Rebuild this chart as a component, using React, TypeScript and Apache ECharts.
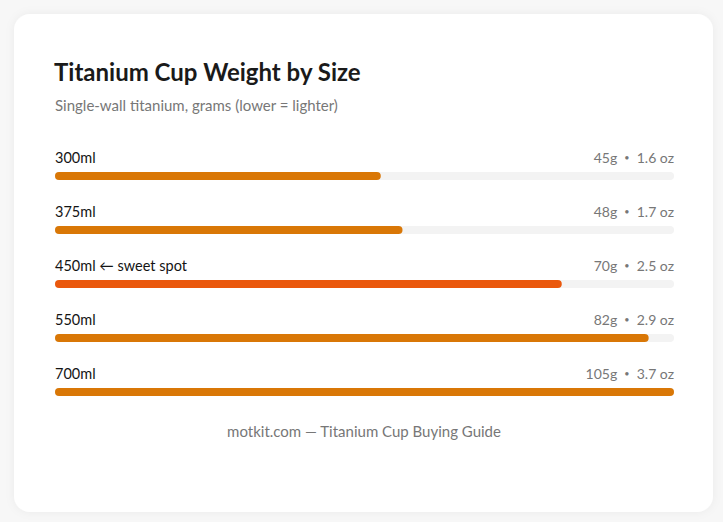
import { useEffect, useRef } from "react";
import * as echarts from "echarts";

const sizes = ["300ml", "375ml", "450ml", "550ml", "700ml"];
const notes = ["", "", "← sweet spot", "", ""];
const grams = [45, 48, 70, 82, 105];
const ounces = ["1.6", "1.7", "2.5", "2.9", "3.7"];
const highlight = 2;

const AXIS_MAX = 85.5;
const FONT = "Lato, 'Noto Sans', sans-serif";
const BAR = "#d97706";
const BAR_HI = "#ea580c";
const TRACK = "#f3f3f3";

function App() {
    const ref = useRef<HTMLDivElement>(null);

    useEffect(() => {
        document.body.style.margin = "0";
        if (!ref.current) return;
        const chart = echarts.init(ref.current, undefined, { renderer: "svg" });

        const labelRow = sizes.map((s, i) => (notes[i] ? `${s} ${notes[i]}` : s));
        // small bullet between the two units
        const valueRow = grams.map((g, i) => `${g}g  {d|•}  ${ounces[i]} oz`);

        chart.setOption({
            animation: false,
            backgroundColor: "#f7f7f7",
            textStyle: { fontFamily: FONT },
            graphic: [
                {
                    type: "rect",
                    z: -10,
                    shape: { x: 14, y: 14, width: 699, height: 498, r: 16 },
                    style: {
                        fill: "#ffffff",
                        shadowBlur: 10,
                        shadowColor: "rgba(0,0,0,0.05)",
                    },
                },
                {
                    type: "text",
                    x: 54,
                    y: 71,
                    style: {
                        text: "Titanium Cup Weight by Size",
                        font: `bold 24px ${FONT}`,
                        fill: "#1a1a1a",
                        verticalAlign: "middle",
                    },
                },
                {
                    type: "text",
                    x: 55,
                    y: 105,
                    style: {
                        text: "Single-wall titanium, grams (lower = lighter)",
                        font: `15px ${FONT}`,
                        fill: "#777777",
                        verticalAlign: "middle",
                    },
                },
                {
                    type: "text",
                    x: 364,
                    y: 431,
                    style: {
                        text: "motkit.com — Titanium Cup Buying Guide",
                        font: `15px ${FONT}`,
                        fill: "#777777",
                        align: "center",
                        verticalAlign: "middle",
                    },
                },
            ],
            grid: { left: 55, right: 49, top: 149, bottom: 103 },
            xAxis: { type: "value", min: 0, max: AXIS_MAX, show: false },
            yAxis: {
                type: "category",
                data: sizes,
                inverse: true,
                show: false,
            },
            series: [
                {
                    type: "bar",
                    silent: true,
                    barWidth: 8,
                    barGap: "-100%",
                    data: sizes.map(() => AXIS_MAX),
                    itemStyle: { color: TRACK, borderRadius: 4 },
                    label: {
                        show: true,
                        position: [0, -15],
                        align: "left",
                        verticalAlign: "middle",
                        fontSize: 14.5,
                        color: "#141414",
                        fontFamily: FONT,
                        formatter: (p: any) => labelRow[p.dataIndex],
                    },
                },
                {
                    type: "bar",
                    barWidth: 8,
                    barGap: "-100%",
                    data: grams.map((g, i) => ({
                        value: Math.min(g, AXIS_MAX),
                        itemStyle: { color: i === highlight ? BAR_HI : BAR },
                    })),
                    itemStyle: { borderRadius: 4 },
                },
                {
                    type: "bar",
                    silent: true,
                    barWidth: 8,
                    barGap: "-100%",
                    data: sizes.map(() => AXIS_MAX),
                    itemStyle: { color: "transparent" },
                    label: {
                        show: true,
                        position: ["100%", -15],
                        align: "right",
                        verticalAlign: "middle",
                        fontSize: 14,
                        color: "#777777",
                        fontFamily: FONT,
                        formatter: (p: any) => valueRow[p.dataIndex],
                        rich: {
                            d: { fontSize: 9, color: "#777777", fontFamily: FONT },
                        },
                    },
                },
            ],
        });

        return () => {
            chart.dispose();
        };
    }, []);

    return <div ref={ref} style={{ width: "723px", height: "522px" }} />;
}

export default App;
